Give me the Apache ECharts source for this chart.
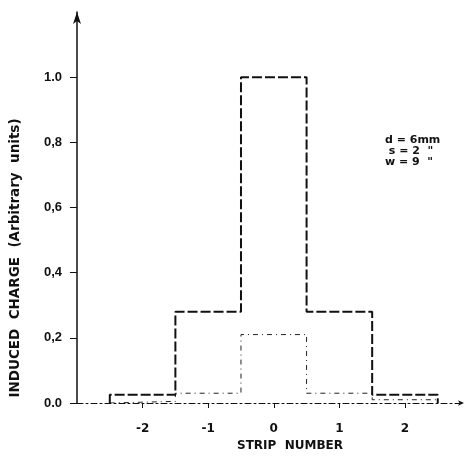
<!DOCTYPE html>
<html>
<head>
<meta charset="utf-8">
<script src="https://cdn.jsdelivr.net/npm/echarts@6/dist/echarts.min.js"></script>
<style>
  html, body { margin: 0; padding: 0; background: #fff; }
  #chart { width: 466px; height: 457px; }
</style>
</head>
<body>
<div id="chart"></div>
<script>
// strip edges and induced charge per strip
const stripEdges = [-2.5, -1.5, -0.5, 0.5, 1.5, 2.5];
const chargeMain = [0.025, 0.28, 1.0, 0.28, 0.025];
const chargeLow = [0.005, 0.03, 0.21, 0.03, 0.01];
const xTicks = [-2, -1, 0, 1, 2];
const yTicks = [0, 0.2, 0.4, 0.6, 0.8, 1.0];
const yTickLabels = ['0.0', '0,2', '0,4', '0,6', '0,8', '1.0'];

// step outline of a histogram: up from zero, across each strip, down to zero
function stepLine(vals) {
  const pts = [[stripEdges[0], 0]];
  vals.forEach((v, i) => {
    pts.push([stripEdges[i], v]);
    pts.push([stripEdges[i + 1], v]);
  });
  pts.push([stripEdges[stripEdges.length - 1], 0]);
  return pts;
}

const chart = echarts.init(document.getElementById('chart'));
const font = 'DejaVu Sans';
const ink = '#111';

const option = {
  animation: false,
  backgroundColor: '#fff',
  grid: { left: 77, right: 2, top: 12, bottom: 54 },
  xAxis: {
    type: 'value',
    min: -3,
    max: 2.9,
    splitLine: { show: false },
    axisLine: {
      show: true,
      onZero: false,
      symbol: ['none', 'arrow'],
      symbolSize: [4, 6],
      lineStyle: { color: ink, width: 1, type: [6, 3, 2, 3] }
    },
    axisTick: {
      show: true,
      length: 5,
      customValues: xTicks,
      lineStyle: { color: ink, width: 1 }
    },
    axisLabel: {
      customValues: xTicks,
      margin: 20,
      color: ink,
      fontFamily: font,
      fontWeight: 'bold',
      fontSize: 12,
      formatter: v => String(v)
    }
  },
  yAxis: {
    type: 'value',
    min: 0,
    max: 1.2,
    splitLine: { show: false },
    axisLine: {
      show: true,
      onZero: false,
      symbol: ['none', 'arrow'],
      symbolSize: [6, 12],
      lineStyle: { color: ink, width: 1.5 }
    },
    axisTick: {
      show: true,
      length: 7,
      customValues: yTicks,
      lineStyle: { color: ink, width: 1 }
    },
    axisLabel: {
      customValues: yTicks,
      margin: 15,
      color: ink,
      fontFamily: 'Liberation Sans',
      fontWeight: 'bold',
      fontSize: 13,
      formatter: v => {
        const i = yTicks.findIndex(t => Math.abs(t - v) < 1e-6);
        return i >= 0 ? yTickLabels[i] : '';
      }
    }
  },
  series: [
    {
      type: 'line',
      data: stepLine(chargeMain),
      symbol: 'none',
      z: 3,
      lineStyle: { color: ink, width: 2, type: [10, 3] }
    },
    {
      type: 'line',
      data: stepLine(chargeLow),
      symbol: 'none',
      z: 2,
      lineStyle: { color: '#222', width: 1, type: [5, 4, 1, 4] }
    }
  ],
  graphic: [
    {
      type: 'text',
      x: 15,
      y: 258,
      rotation: Math.PI / 2,
      style: {
        text: 'INDUCED  CHARGE  (Arbitrary  units)',
        font: 'bold 13.5px "DejaVu Sans"',
        fill: ink,
        align: 'center',
        verticalAlign: 'middle'
      }
    },
    {
      type: 'text',
      x: 290,
      y: 446,
      style: {
        text: 'STRIP  NUMBER',
        font: 'bold 12px "DejaVu Sans"',
        fill: ink,
        align: 'center',
        verticalAlign: 'middle'
      }
    },
    {
      type: 'text',
      x: 385,
      y: 135,
      style: {
        text: 'd = 6mm\n s = 2  "\nw = 9  "',
        font: 'bold 11px "DejaVu Sans"',
        lineHeight: 11,
        fill: ink,
        align: 'left',
        verticalAlign: 'top'
      }
    }
  ]
};

chart.setOption(option);
</script>
</body>
</html>
